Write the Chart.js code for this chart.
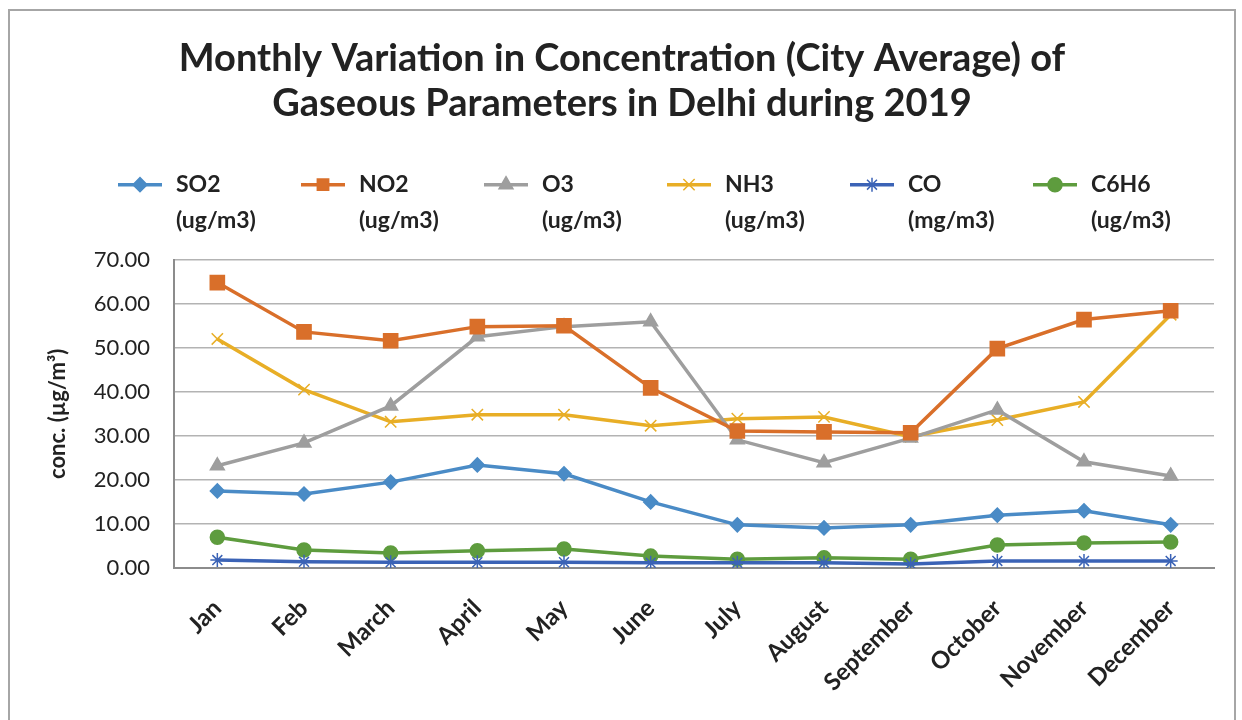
<!DOCTYPE html>
<html>
<head>
<meta charset="utf-8">
<script src="https://cdn.jsdelivr.net/npm/chart.js@4.4.0/dist/chart.umd.min.js"></script>
<style>
    html, body { margin: 0; padding: 0; background: #fff; }
    body { width: 1242px; height: 720px; overflow: hidden; position: relative; }
    #marco {
        position: absolute; left: 8px; top: 9px; width: 1228px; height: 760px;
        border: 2px solid #a6a6a6; box-sizing: border-box;
    }
    #contenedor { position: absolute; left: 0; top: 0; width: 1242px; height: 720px; }
</style>
</head>
<body>
<div id="marco"></div>
<div id="contenedor"><canvas id="grafica"></canvas></div>
<script>
const meses = ['Jan', 'Feb', 'March', 'April', 'May', 'June', 'July', 'August', 'September', 'October', 'November', 'December'];

const so2  = [17.5, 16.8, 19.5, 23.4, 21.4, 15.0, 9.8, 9.1, 9.8, 12.0, 13.0, 9.8];
const no2  = [64.8, 53.6, 51.6, 54.8, 55.0, 40.9, 31.1, 30.9, 30.7, 49.8, 56.4, 58.4];
const o3   = [23.2, 28.4, 36.8, 52.5, 54.8, 55.9, 29.1, 23.9, 29.5, 35.9, 24.1, 20.9];
const nh3  = [52.0, 40.5, 33.2, 34.8, 34.8, 32.3, 33.9, 34.3, 29.8, 33.6, 37.7, 57.5];
const co   = [1.8, 1.4, 1.3, 1.3, 1.3, 1.2, 1.2, 1.2, 0.9, 1.6, 1.6, 1.6];
const c6h6 = [7.0, 4.1, 3.4, 3.9, 4.3, 2.7, 2.0, 2.3, 2.0, 5.2, 5.7, 5.9];

const series = [
    { nombre: 'SO2', unidad: '(ug/m3)', datos: so2, color: '#4a8bc6', punto: 'rectRot', radio: 7 },
    { nombre: 'NO2', unidad: '(ug/m3)', datos: no2, color: '#d96f2a', punto: 'rect', radio: 10 },
    { nombre: 'O3', unidad: '(ug/m3)', datos: o3, color: '#9e9e9e', punto: 'triangle', radio: 8 },
    { nombre: 'NH3', unidad: '(ug/m3)', datos: nh3, color: '#e8ae26', punto: 'crossRot', radio: 8 },
    { nombre: 'CO', unidad: '(mg/m3)', datos: co, color: '#3b63b6', punto: 'star', radio: 7 },
    { nombre: 'C6H6', unidad: '(ug/m3)', datos: c6h6, color: '#5e9c3e', punto: 'circle', radio: 7 }
];

const fuente = 'Lato, "Open Sans", sans-serif';

// Leyenda propia: línea + marcador y el nombre en dos renglones
const leyendaDosRenglones = {
    id: 'leyendaDosRenglones',
    afterDraw(chart) {
        const ctx = chart.ctx;
        const top = chart.chartArea.top;
        const yLinea = top - 75;
        const x0 = 118, paso = 183;
        chart.data.datasets.forEach((ds, i) => {
            const x = x0 + i * paso;
            ctx.save();
            ctx.strokeStyle = ds.borderColor;
            ctx.fillStyle = ds.borderColor;
            ctx.lineWidth = 3.5;
            ctx.beginPath();
            ctx.moveTo(x, yLinea);
            ctx.lineTo(x + 44, yLinea);
            ctx.stroke();
            ctx.lineWidth = 1.5;
            Chart.helpers.drawPoint(ctx, {
                pointStyle: ds.pointStyle,
                radius: Math.min(ds.pointRadius, 8),
                borderWidth: 1.5,
                rotation: 0
            }, x + 22, yLinea);
            ctx.fillStyle = '#222';
            ctx.font = 'bold 23px ' + fuente;
            ctx.textAlign = 'left';
            ctx.textBaseline = 'middle';
            ctx.fillText(ds.label, x + 58, yLinea);
            ctx.fillText(series[i].unidad, x + 58, yLinea + 36);
            ctx.restore();
        });
    }
};

const ctx = document.getElementById('grafica').getContext('2d');

new Chart(ctx, {
    type: 'line',
    data: {
        labels: meses,
        datasets: series.map(s => ({
            label: s.nombre,
            data: s.datos,
            borderColor: s.color,
            backgroundColor: s.color,
            borderWidth: 3.5,
            pointStyle: s.punto,
            pointRadius: s.radio,
            pointBorderWidth: 1.5,
            pointBorderColor: s.color,
            pointBackgroundColor: s.color,
            tension: 0,
            fill: false
        }))
    },
    options: {
        responsive: true,
        maintainAspectRatio: false,
        animation: false,
        layout: { padding: { top: 0, left: 30, right: 28, bottom: 0 } },
        scales: {
            x: {
                offset: true,
                grid: { display: false, drawTicks: false },
                border: { color: '#8c8c8c', width: 2 },
                ticks: {
                    color: '#222',
                    font: { family: fuente, size: 24, weight: 'bold' },
                    minRotation: 45,
                    maxRotation: 45,
                    padding: 26
                },
                afterFit: scale => { scale.height = 152; }
            },
            y: {
                min: 0,
                max: 70,
                grid: { color: '#b3b3b3', lineWidth: 1.5, drawTicks: false },
                border: { color: '#8c8c8c', width: 2 },
                ticks: {
                    stepSize: 10,
                    color: '#222',
                    font: { family: fuente, size: 22 },
                    padding: 24,
                    callback: v => v.toFixed(2)
                },
                title: {
                    display: true,
                    text: 'conc. (µg/m³)',
                    color: '#222',
                    font: { family: fuente, size: 22, weight: 'bold' },
                    padding: { top: 15 }
                },
                afterFit: scale => { scale.width = 144; }
            }
        },
        plugins: {
            legend: { display: false },
            tooltip: { enabled: false },
            title: {
                display: true,
                text: ['Monthly Variation in Concentration (City Average) of', 'Gaseous Parameters in Delhi during 2019'],
                color: '#222',
                font: { family: fuente, size: 38, weight: 'bold', lineHeight: 1.18 },
                padding: { top: 36, bottom: 134 }
            }
        }
    },
    plugins: [leyendaDosRenglones]
});
</script>
</body>
</html>
